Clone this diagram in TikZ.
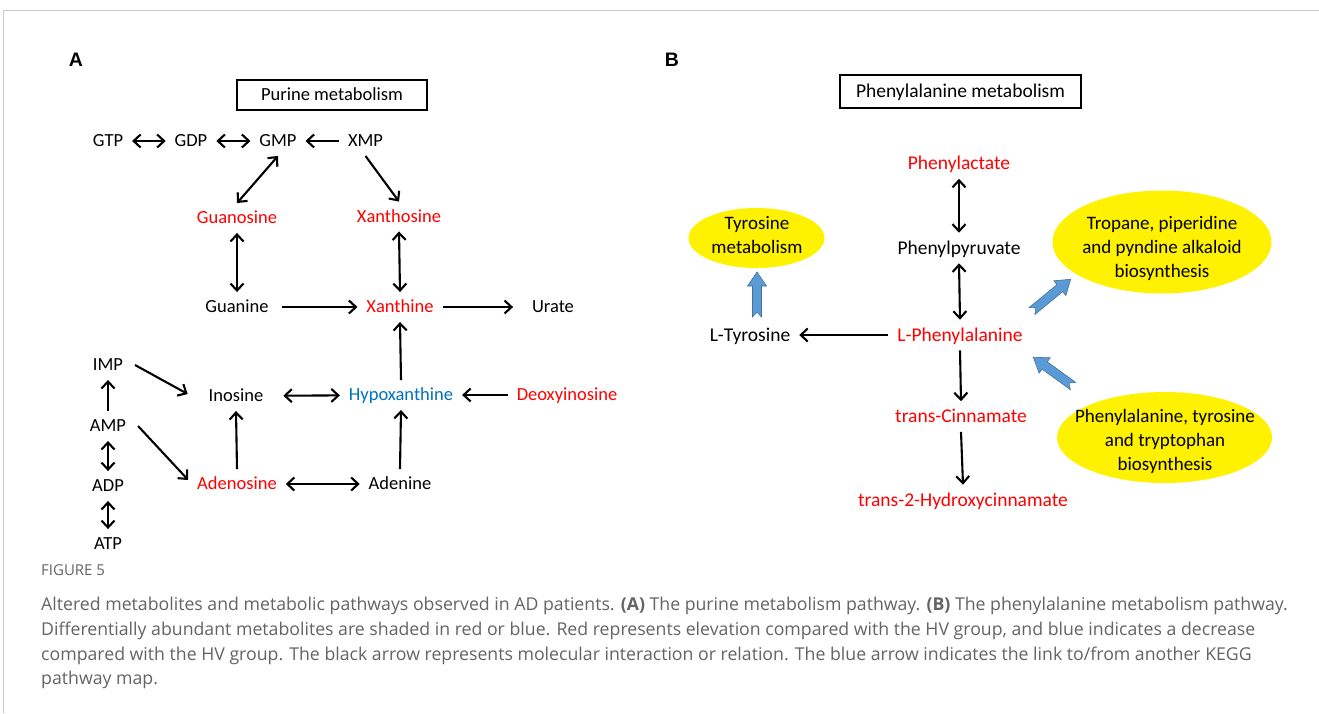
\documentclass[tikz,border=0pt]{standalone}
\usepackage{fontspec}
\setmainfont{Carlito}
\newfontfamily\capfont{Open Sans}
\newfontfamily\labfont{Liberation Sans}
\usetikzlibrary{arrows.meta,shapes.geometric}
\definecolor{metred}{RGB}{255,0,0}
\definecolor{metblue}{RGB}{0,112,192}
\definecolor{arrfill}{RGB}{91,155,213}
\definecolor{arrline}{RGB}{65,113,156}
\definecolor{capgray}{RGB}{100,100,100}
\definecolor{framegray}{RGB}{200,200,200}
\begin{document}
\begin{tikzpicture}[x=1pt,y=-1pt,
  metA/.style={font=\fontsize{18.5}{22}\selectfont, inner sep=0pt, outer sep=9pt, text height=11.9pt, text depth=0pt},
  metB/.style={font=\fontsize{19.5}{23}\selectfont, inner sep=0pt, outer sep=9pt, text height=12.6pt, text depth=0pt},
  up/.style={text=metred}, down/.style={text=metblue},
  conn/.style={line width=2.1pt, -{Straight Barb[length=7pt,width=13pt]}},
  bconn/.style={line width=2.1pt, {Straight Barb[length=7pt,width=13pt]}-{Straight Barb[length=7pt,width=13pt]}},
  titlebox/.style={draw, line width=1.6pt, inner sep=0pt},
  ell/.style={ellipse, fill=yellow, inner sep=0pt},
  pathway/.style={inner sep=0pt, align=center, font=\fontsize{19}{24}\selectfont},
  panel/.style={font=\labfont\bfseries\fontsize{19.5}{22}\selectfont, inner sep=0pt},
  capline/.style={font=\capfont\fontsize{17.7}{21}\selectfont, text=capgray, inner sep=0pt, anchor=mid west},
  pics/barrow/.style={code={\draw[fill=arrfill, draw=arrline, line width=0.6pt, line join=miter] (0,-4.5) -- ({#1-14},-4.5) -- ({#1-14},-9.5) -- (#1,0) -- ({#1-14},9.5) -- ({#1-14},4.5) -- (0,4.5) -- (5,0) -- cycle;}}
]
\useasboundingbox (0,0) rectangle (1319,713);
\fill[white] (0,0) rectangle (1319,713);
\draw[framegray, line width=1.5pt] (3.5,713) -- (3.5,10.5) -- (1319,10.5);

% ---------- Panel A ----------
\node[panel] (labA) at (76,60) {A};
\node[titlebox, minimum width=190pt, minimum height=30pt, font=\fontsize{18.5}{22}\selectfont, text height=11.9pt, text depth=0pt] (purine) at (332,95) {Purine metabolism};

\node[metA] (GTP) at (108,141) {GTP};
\node[metA] (GDP) at (191,141) {GDP};
\node[metA] (GMP) at (278,141) {GMP};
\node[metA] (XMP) at (365.5,141) {XMP};
\node[metA,up] (Guo) at (237,218) {Guanosine};
\node[metA,up] (Xao) at (399,216.5) {Xanthosine};
\node[metA] (Gua) at (237,307) {Guanine};
\node[metA,up] (Xan) at (400,307) {Xanthine};
\node[metA] (Ura) at (553,307) {Urate};
\node[metA] (Ino) at (236,396) {Inosine};
\node[metA,down] (Hyp) at (401,395) {Hypoxanthine};
\node[metA,up] (Dino) at (567,395) {Deoxyinosine};
\node[metA,up] (Ado) at (237,484) {Adenosine};
\node[metA] (Ade) at (400,484) {Adenine};
\node[metA] (IMP) at (108,365) {IMP};
\node[metA] (AMP) at (108,426) {AMP};
\node[metA] (ADP) at (108,486) {ADP};
\node[metA] (ATP) at (108,544) {ATP};

\draw[bconn] (GTP) -- (GDP);
\draw[bconn] (GDP) -- (GMP);
\draw[conn] (XMP) -- (GMP);
\draw[bconn] (GMP.south) -- (Guo.north);
\draw[conn] (XMP.south) -- (Xao.north);
\draw[bconn] (Guo.south) -- (Gua.north);
\draw[bconn] (Xao.south) -- (Xan.north);
\draw[conn, shorten <=4pt] (Gua) -- (Xan);
\draw[conn, shorten >=10pt] (Xan) -- (Ura);
\draw[conn] (Hyp.north) -- (Xan.south);
\draw[bconn, shorten <=11pt] (Ino) -- (Hyp);
\draw[conn] (Dino) -- (Hyp);
\draw[conn] (Ado.north) -- (Ino.south);
\draw[conn] (Ade.north) -- (Hyp.south);
\draw[bconn] (Ado) -- (Ade);
\draw[conn] (AMP.north) -- (IMP.south);
\draw[bconn] (AMP.south) -- (ADP.north);
\draw[bconn] (ADP.south) -- (ATP.north);
\draw[conn] ([xshift=3pt]IMP.east) -- ([xshift=-12pt,yshift=2pt]Ino.west);
\draw[conn] ([xshift=3pt]AMP.east) -- ([yshift=4pt]Ado.west);

% ---------- Panel B ----------
\node[panel] (labB) at (672,60) {B};
\node[titlebox, minimum width=241pt, minimum height=33pt, font=\fontsize{19.5}{23}\selectfont, text height=12.6pt, text depth=0pt] (phebox) at (960.5,91.5) {Phenylalanine metabolism};

\node[metB,up] (Plac) at (959,163.5) {Phenylactate};
\node[metB] (Ppyr) at (959,248) {Phenylpyruvate};
\node[metB,up] (Phe) at (960,335) {L-Phenylalanine};
\node[metB] (Tyr) at (750,335) {L-Tyrosine};
\node[metB,up] (Cin) at (961,416.5) {trans-Cinnamate};
\node[metB,up] (HCin) at (963,500) {trans-2-Hydroxycinnamate};

\node[ell, minimum width=136pt, minimum height=60pt] (TyrMetE) at (756.5,238) {};
\node[pathway] (TyrMet) at (757,235) {Tyrosine\\metabolism};
\node[ell, minimum width=219pt, minimum height=103pt] (TropE) at (1162,242) {};
\node[pathway] (Trop) at (1162,248) {Tropane, piperidine\\and pyndine alkaloid\\biosynthesis};
\node[ell, minimum width=215pt, minimum height=91pt] (PTTE) at (1164.5,437.5) {};
\node[pathway] (PTT) at (1165,441) {Phenylalanine, tyrosine\\and tryptophan\\biosynthesis};

\draw[bconn] (Plac.south) -- (Ppyr.north);
\draw[bconn] (Ppyr.south) -- (Phe.north);
\draw[conn] (Phe) -- (Tyr);
\draw[conn] (Phe.south) -- (Cin.north);
\draw[conn] (Cin.south) -- (HCin.north);

\coordinate (tyrtail) at (757,317);
\coordinate (troptail) at (1032,311);
\coordinate (ptttail) at (1073,386);
\pic[rotate=90] at (tyrtail) {barrow=45};
\pic[rotate=39.4] at (troptail) {barrow=50};
\pic[rotate=144.1] at (ptttail) {barrow=49};

% ---------- Caption ----------
\node[font=\capfont\fontsize{15}{17}\selectfont, text=capgray, inner sep=0pt, anchor=mid west] (fig) at (41,573) {FIGURE 5};
\node[capline] (c1) at (41,608) {Altered metabolites and metabolic pathways observed in AD patients. \textbf{(A)} The purine metabolism pathway. \textbf{(B)} The phenylalanine metabolism pathway.};
\node[capline] (c2) at (41,633) {Differentially abundant metabolites are shaded in red or blue. Red represents elevation compared with the HV group, and blue indicates a decrease};
\node[capline] (c3) at (41,658) {compared with the HV group. The black arrow represents molecular interaction or relation. The blue arrow indicates the link to/from another KEGG};
\node[capline] (c4) at (41,682) {pathway map.};
\end{tikzpicture}
\end{document}
